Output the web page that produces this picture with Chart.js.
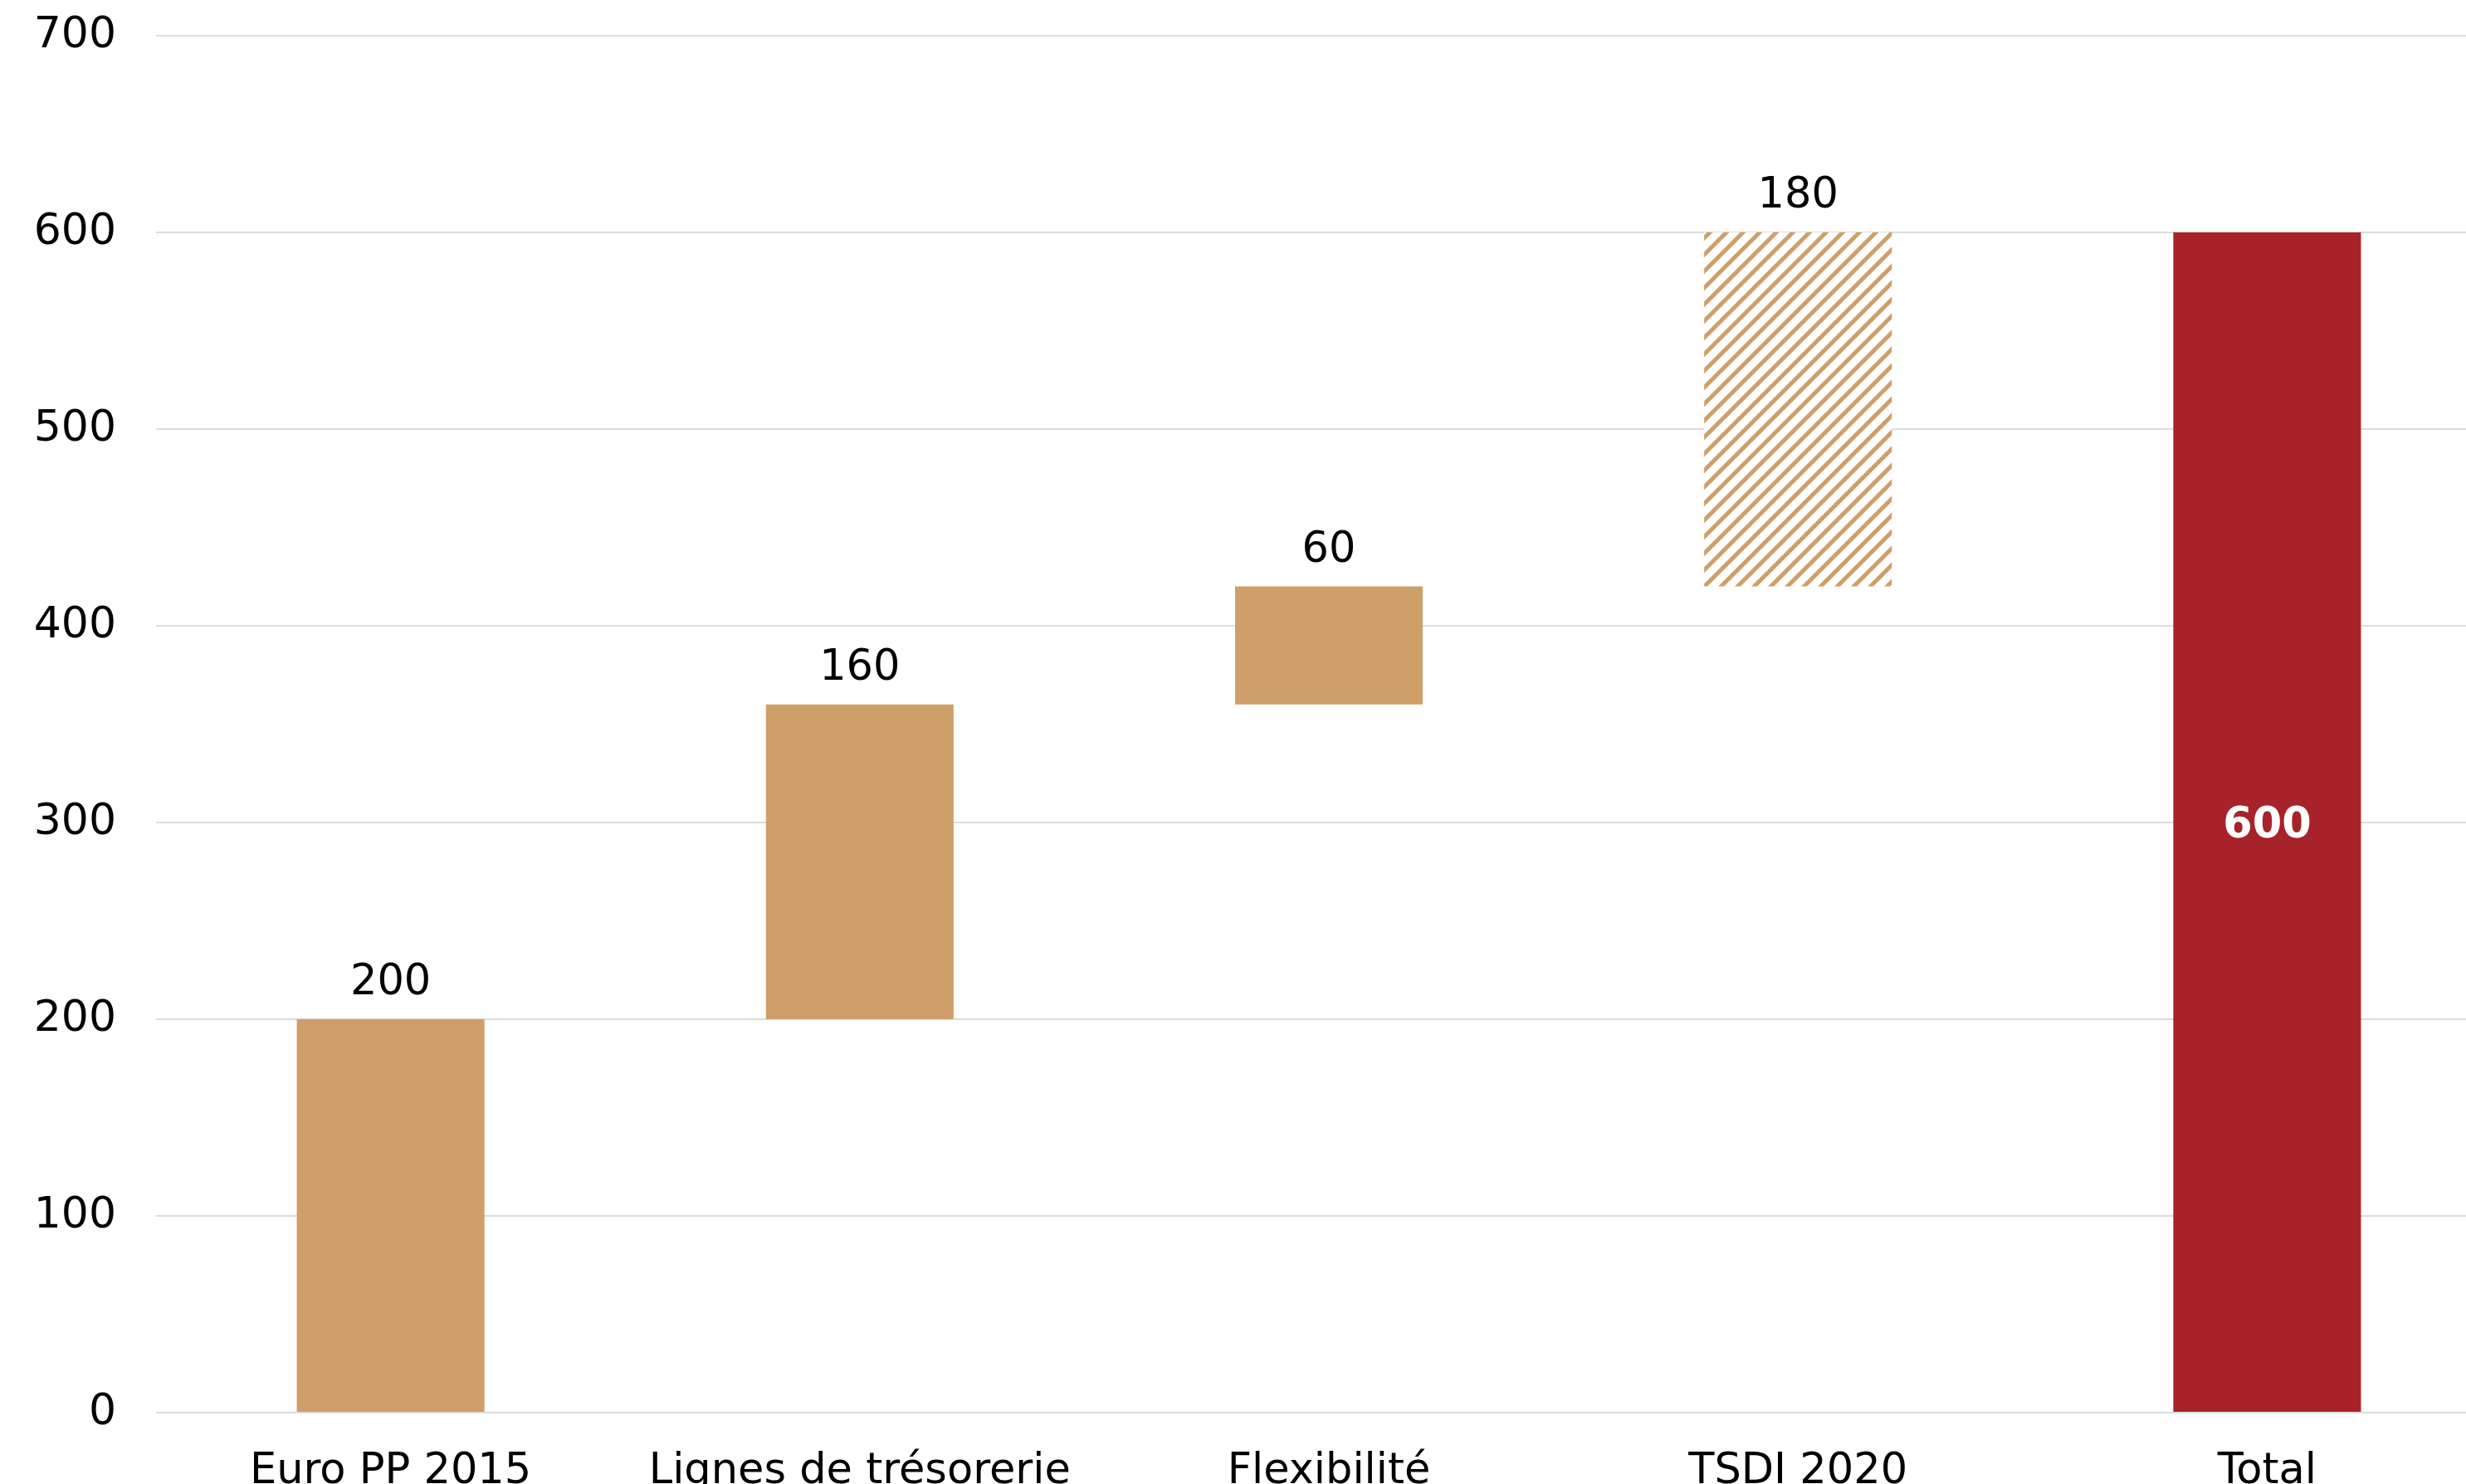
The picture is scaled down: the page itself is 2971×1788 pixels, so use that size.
<!DOCTYPE html>
<html lang="fr">
<head>
<meta charset="utf-8">
<title>Sources de financement</title>
<script src="https://cdn.jsdelivr.net/npm/chart.js@4.4.1/dist/chart.umd.min.js"></script>
<style>
    html, body { margin: 0; padding: 0; background: #fff; overflow: hidden; }
    .chart-box { position: relative; width: 3014px; height: 1800px; }
</style>
</head>
<body>
<div class="chart-box"><canvas id="waterfall"></canvas></div>
<script>
    "use strict";

    // Data
    const categories = ['Euro PP 2015', 'Lignes de trésorerie', 'Flexibilité', 'TSDI 2020', 'Total'];
    const increments = [200, 160, 60, 180];
    const totalValue = 600;
    const yTicks = [0, 100, 200, 300, 400, 500, 600, 700];

    const tan = '#cf9f69';
    const red = '#a8222a';
    const fontFamily = '"DejaVu Sans", sans-serif';

    // Floating ranges for the waterfall: each step starts where the previous ended
    var ranges = [];
    var running = 0;
    increments.forEach(function (v) {
        ranges.push([running, running + v]);
        running += v;
    });
    ranges.push([0, totalValue]);

    // Hatched fill for the last step
    var hatch = (function () {
        var size = 20;
        var c = document.createElement('canvas');
        c.width = size;
        c.height = size;
        var g = c.getContext('2d');
        g.fillStyle = '#fff';
        g.fillRect(0, 0, size, size);
        g.strokeStyle = tan;
        g.lineWidth = 5;
        g.beginPath();
        g.moveTo(-size / 2, size / 2); g.lineTo(size / 2, -size / 2);
        g.moveTo(0, size); g.lineTo(size, 0);
        g.moveTo(size / 2, size * 1.5); g.lineTo(size * 1.5, size / 2);
        g.stroke();
        return g.createPattern(c, 'repeat');
    })();

    var barColors = [tan, tan, tan, hatch, red];

    // Value labels: above the steps, inside the total bar
    const valueLabels = {
        id: 'valueLabels',
        afterDatasetsDraw: function (chart) {
            var ctx = chart.ctx;
            var meta = chart.getDatasetMeta(0);
            ctx.save();
            ctx.textAlign = 'center';
            meta.data.forEach(function (bar, i) {
                if (i < increments.length) {
                    ctx.font = '51px ' + fontFamily;
                    ctx.fillStyle = '#000';
                    ctx.textBaseline = 'alphabetic';
                    ctx.fillText(String(increments[i]), bar.x, bar.y - 30);
                } else {
                    ctx.font = 'bold 51px ' + fontFamily;
                    ctx.fillStyle = '#fff';
                    ctx.textBaseline = 'middle';
                    ctx.fillText(String(totalValue), bar.x, (bar.y + bar.base) / 2 + 5);
                }
            });
            ctx.restore();
        }
    };

    var ctx = document.getElementById('waterfall').getContext('2d');
    var chart = new Chart(ctx, {
        type: 'bar',
        data: {
            labels: categories,
            datasets: [{
                data: ranges,
                backgroundColor: barColors,
                borderWidth: 0,
                categoryPercentage: 1,
                barPercentage: 0.4
            }]
        },
        options: {
            responsive: true,
            maintainAspectRatio: false,
            animation: false,
            layout: {
                padding: { top: 43, left: 0, right: 0, bottom: 0 }
            },
            plugins: {
                legend: { display: false },
                tooltip: { enabled: false }
            },
            scales: {
                x: {
                    grid: { display: false },
                    border: { display: false },
                    ticks: {
                        color: '#000',
                        padding: 33,
                        maxRotation: 0,
                        autoSkip: false,
                        font: { family: fontFamily, size: 51 }
                    },
                    afterFit: function (axis) { axis.height = 98; }
                },
                y: {
                    min: yTicks[0],
                    max: yTicks[yTicks.length - 1],
                    grid: { color: '#dcdcdc', lineWidth: 2, drawTicks: false },
                    border: { display: false },
                    ticks: {
                        stepSize: yTicks[1] - yTicks[0],
                        color: '#000',
                        padding: 48,
                        font: { family: fontFamily, size: 52 }
                    },
                    afterFit: function (axis) {
                        axis.width = 188;
                        axis.paddingTop = 0;
                        axis.paddingBottom = 0;
                    }
                }
            }
        },
        plugins: [valueLabels]
    });
</script>
</body>
</html>
